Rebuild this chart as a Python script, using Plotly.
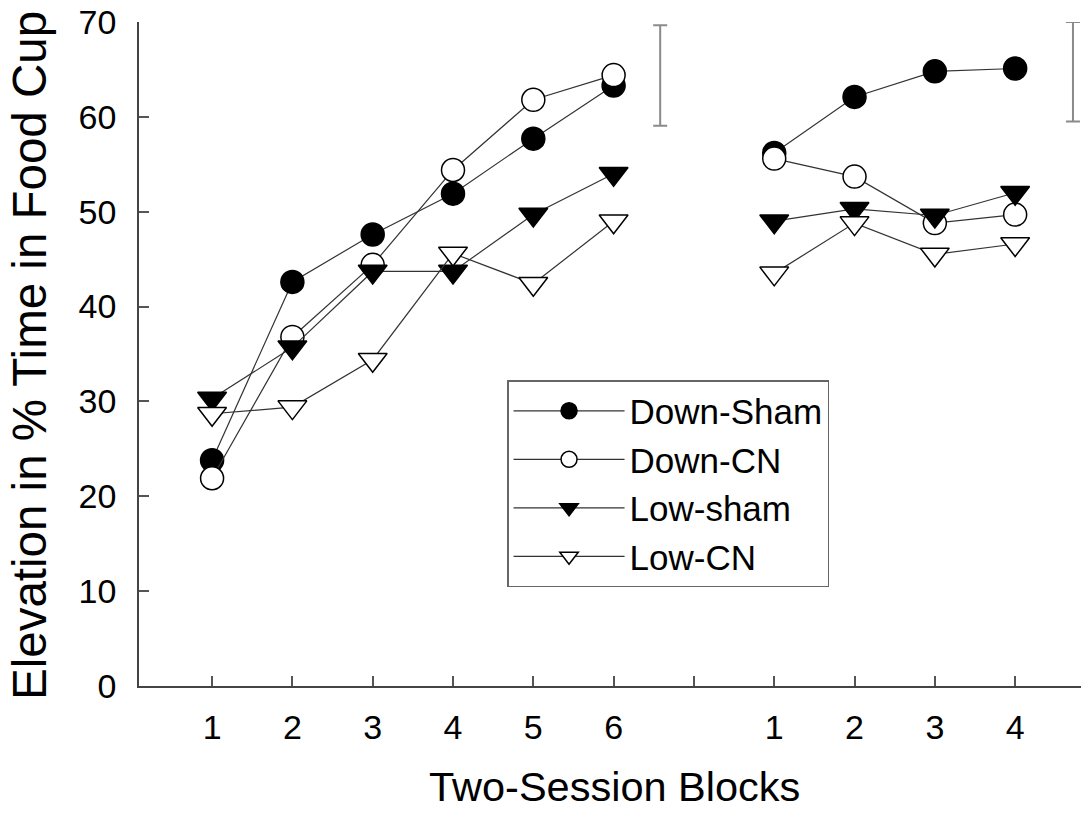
import plotly.graph_objects as go

# x positions: blocks 1-6 (phase 1), gap at 7, blocks 1-4 (phase 2) at 8-11
x_pos = [1, 2, 3, 4, 5, 6, 7, 8, 9, 10, 11]
tick_text = ["1", "2", "3", "4", "5", "6", "", "1", "2", "3", "4"]

down_sham = [23.8, 42.6, 47.6, 51.9, 57.7, 63.3, None, 56.2, 62.1, 64.8, 65.1]
down_cn = [21.9, 36.8, 44.4, 54.4, 61.8, 64.4, None, 55.6, 53.7, 48.8, 49.7]
low_sham = [30.3, 35.7, 43.7, 43.7, 49.7, 54.0, None, 49.0, 50.3, 49.6, 52.0]
low_cn = [28.7, 29.4, 34.4, 45.6, 42.4, 49.0, None, 43.5, 48.8, 45.5, 46.6]

err_x = [6.58, 11.72]
err_center = [64.35, 64.75]
err_half = [5.3, 5.25]

font_family = "Liberation Sans, Arial, sans-serif"
line_col = "#333333"

fig = go.Figure()

series = [
    ("Down-Sham", down_sham, "circle", "black", 23),
    ("Down-CN", down_cn, "circle", "white", 23),
    ("Low-sham", low_sham, "triangle-down", "black", 25),
    ("Low-CN", low_cn, "triangle-down", "white", 25),
]
for name, vals, sym, fill, size in series:
    fig.add_trace(go.Scatter(
        x=x_pos, y=vals, name=name, mode="lines+markers",
        connectgaps=False,
        line=dict(color=line_col, width=1.2),
        marker=dict(symbol=sym, size=size, color=fill,
                    line=dict(color="black", width=1.5)),
        cliponaxis=False,
    ))

fig.add_trace(go.Scatter(
    x=err_x, y=err_center, mode="markers", showlegend=False,
    marker=dict(size=1, color="rgba(0,0,0,0)"),
    error_y=dict(type="data", array=err_half, symmetric=True,
                 color="#8a8a8a", thickness=2, width=7),
    hoverinfo="skip",
))

fig.update_layout(
    width=1081, height=813,
    margin=dict(l=139, r=0, t=22, b=127),
    paper_bgcolor="white", plot_bgcolor="white",
    font=dict(family=font_family, color="black"),
    showlegend=True,
    legend=dict(
        x=0.3907, y=0.4608, xanchor="left", yanchor="top",
        bgcolor="white", bordercolor="#666666", borderwidth=1.5,
        font=dict(size=35, family=font_family, color="black"),
        itemwidth=111, tracegroupgap=0,
        entrywidth=340, entrywidthmode="pixels",
    ),
    xaxis=dict(
        range=[0.09, 11.82], tickmode="array", tickvals=x_pos, ticktext=tick_text,
        ticks="inside", ticklen=10, tickwidth=1.5, tickcolor="#555555",
        showline=True, linecolor="#444444", linewidth=1.5,
        showgrid=False, zeroline=False,
        tickfont=dict(size=34, family=font_family, color="black"),
        ticklabelstandoff=10,
    ),
    yaxis=dict(
        range=[0, 70], tickmode="array", tickvals=[0, 10, 20, 30, 40, 50, 60, 70],
        ticks="inside", ticklen=10, tickwidth=1.5, tickcolor="#555555",
        showline=True, linecolor="#444444", linewidth=1.5,
        showgrid=False, zeroline=False,
        tickfont=dict(size=34, family=font_family, color="black"),
        ticklabelstandoff=14,
    ),
    annotations=[
        dict(text="Elevation in % Time in Food Cup", xref="paper", yref="paper",
             x=-0.1157, y=0.497, xanchor="center", yanchor="middle",
             textangle=-90, showarrow=False,
             font=dict(size=47.5, family=font_family, color="black")),
        dict(text="Two-Session Blocks", xref="paper", yref="paper",
             x=0.505, y=-0.151, xanchor="center", yanchor="middle",
             showarrow=False,
             font=dict(size=41.5, family=font_family, color="black")),
    ],
)

fig.write_html(
    "out.html",
    config={"displayModeBar": False},
    post_script="document.body.style.margin='0';document.body.style.overflow='hidden';",
)
